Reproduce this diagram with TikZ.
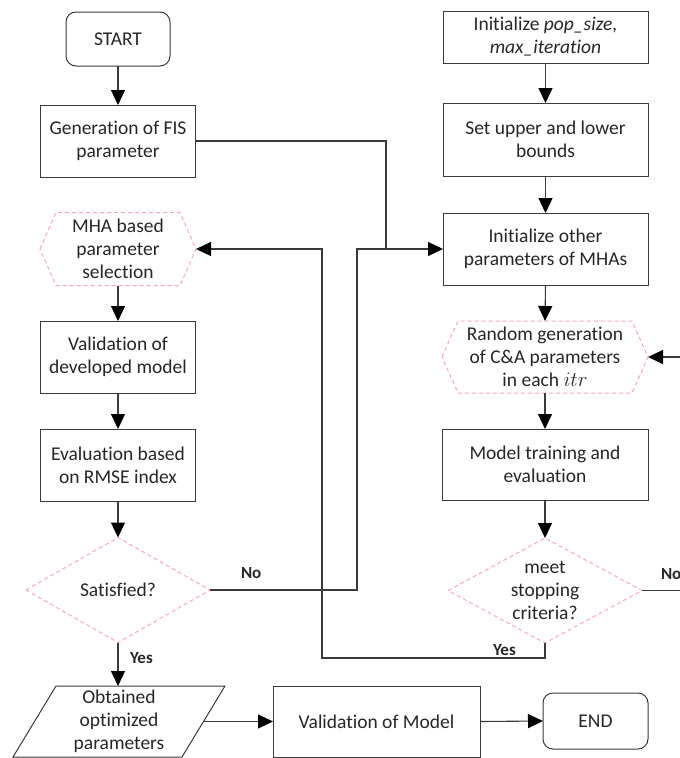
\documentclass[tikz,border=0pt]{standalone}
\usepackage{fontspec}
\setmainfont{Carlito}[Ligatures=NoCommon]
\usetikzlibrary{arrows.meta}
\definecolor{ink}{HTML}{262626}
\definecolor{edge}{HTML}{3A3A3A}
\definecolor{pinkdash}{RGB}{250,165,200}

\begin{document}
\begin{tikzpicture}[x=1pt,y=-1pt,
  every node/.style={font=\fontsize{19.5}{23}\selectfont, text=ink, align=center,
                     inner sep=0pt, outer sep=0pt},
  box/.style={draw=edge, line width=1pt},
  rbox/.style={box, rounded corners=10pt},
  plain/.style={draw=none},
  link/.style={draw=edge, line width=1.1pt},
  arr/.style={link, -{Triangle[length=15pt,width=14pt,color=black]}},
  outline/.style={draw=pinkdash, line width=1pt, dash pattern=on 4pt off 3pt},
  lbl/.style={font=\fontsize{17}{20}\selectfont\bfseries, anchor=west}
]
\useasboundingbox (0,0) rectangle (680,758);
\clip (0,0) rectangle (680,758);

% left column
\node[rbox, minimum width=104pt, minimum height=54pt] (start) at (118,39) {START};
\node[box, minimum width=155pt, minimum height=72pt] (fis) at (118,141) {Generation of FIS\\parameter};
\node[plain, minimum width=156pt, minimum height=73pt] (mha) at (118,249) {MHA based\\parameter\\selection};
\node[box, minimum width=155pt, minimum height=72pt] (valdev) at (118,357) {Validation of\\developed model};
\node[box, minimum width=155pt, minimum height=72pt] (eval) at (118,465) {Evaluation based\\on RMSE index};
\node[plain, minimum width=184pt, minimum height=105pt] (sat) at (118,590) {Satisfied?};
\node[plain, minimum width=212pt, minimum height=71pt] (par) at (119,721.5) {Obtained\\optimized\\parameters};

% right column
\node[box, minimum width=205pt, minimum height=52pt] (init) at (545.5,37) {Initialize \textit{pop\_size,}\\\textit{max\_iteration}};
\node[box, minimum width=205pt, minimum height=73pt] (bounds) at (545.5,139.5) {Set upper and lower\\bounds};
\node[box, minimum width=205pt, minimum height=72pt] (other) at (545.5,249) {Initialize other\\parameters of MHAs};
\node[plain, minimum width=206pt, minimum height=72pt] (rnd) at (545,357) {Random generation\\of C\&A parameters\\in each \(itr\)};
\node[box, minimum width=206pt, minimum height=71pt] (train) at (545,464.5) {Model training and\\evaluation};
\node[plain, minimum width=194pt, minimum height=105pt] (meet) at (545,590.5) {meet\\stopping\\criteria?};

% bottom row
\node[box, minimum width=207pt, minimum height=71pt] (valmod) at (376.5,721.5) {Validation of Model};
\node[rbox, minimum width=105pt, minimum height=56pt] (end) at (595.5,721) {END};

% dashed outlines: hexagons, diamonds, parallelogram
\foreach \n in {mha,rnd}
  \draw[outline] (\n.west) -- ([xshift=16pt]\n.north west) -- ([xshift=-16pt]\n.north east)
    -- (\n.east) -- ([xshift=-16pt]\n.south east) -- ([xshift=16pt]\n.south west) -- cycle;
\foreach \n in {sat,meet}
  \draw[outline] (\n.west) -- (\n.north) -- (\n.east) -- (\n.south) -- cycle;
\draw[box] (par.south west) -- ([xshift=-43pt]par.south east) -- (par.north east)
  -- ([xshift=43pt]par.north west) -- cycle;

% junction points of the routed connectors
\coordinate (jfis) at (386,249);
\coordinate (jno) at (357,249);
\coordinate (jyesb) at (322,658);
\coordinate (jyest) at (322,249);
\coordinate (jrb) at (700,590.5);
\coordinate (jrt) at (700,357);

% straight flow
\draw[arr] (start.south) -- (fis.north);
\draw[arr] (mha.south) -- (valdev.north);
\draw[arr] (valdev.south) -- (eval.north);
\draw[arr] (eval.south) -- (sat.north);
\draw[arr] (sat.south) -- (par.north -| sat.south);
\draw[arr] (init.south) -- (bounds.north);
\draw[arr] (bounds.south) -- (other.north);
\draw[arr] (other.south) -- (rnd.north);
\draw[arr] (rnd.south) -- (train.north);
\draw[arr] (train.south) -- (meet.north);
\draw[arr] ([xshift=-21.5pt]par.east) -- (valmod.west);
\draw[arr] (valmod.east) -- (end.west);

% routed flow
\draw[link] (fis.east) -| (jfis);
\draw[arr] (sat.east) -| (jno) -- (other.west);
\draw[arr] (meet.south) |- (jyesb) -- (jyest) -- (mha.east);
\draw[arr] (meet.east) -- (jrb) -- (jrt) -- (rnd.east);

% branch labels
\node[lbl] (satno) at (241,573) {No};
\node[lbl] (satyes) at (130,658) {Yes};
\node[lbl] (meetyes) at (493,650) {Yes};
\node[lbl] (meetno) at (661,574) {No};
\end{tikzpicture}
\end{document}
